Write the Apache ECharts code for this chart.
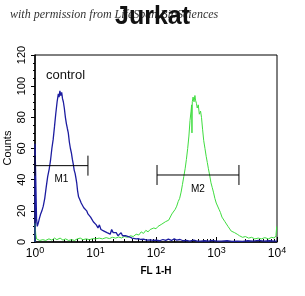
<!DOCTYPE html>
<html>
<head>
<meta charset="utf-8">
<script src="https://cdn.jsdelivr.net/npm/echarts@6/dist/echarts.min.js"></script>
<style>
  html, body { margin: 0; padding: 0; background: #fff; }
  #chart { width: 305px; height: 296px; }
</style>
</head>
<body>
<div id="chart"></div>
<script>
// FL1-H intensity / counts
const controlPts = [
  [1.0, 0], [1.0, 63], [1.03, 40], [1.06, 15], [1.09, 10], [1.13, 12], [1.18, 15], [1.24, 18],
  [1.3, 20], [1.37, 23], [1.45, 28], [1.53, 35], [1.62, 42], [1.72, 47], [1.8, 52], [1.9, 60],
  [2.0, 66], [2.1, 74], [2.2, 82], [2.32, 90], [2.43, 95], [2.5, 93], [2.58, 97], [2.66, 94],
  [2.76, 96], [2.85, 92], [2.94, 90], [3.05, 86], [3.18, 80], [3.3, 76], [3.42, 73], [3.55, 70],
  [3.7, 64], [3.85, 60], [4.0, 57], [4.15, 53], [4.29, 50], [4.45, 46], [4.6, 44], [4.75, 41],
  [4.89, 38], [5.05, 33], [5.25, 29], [5.54, 27], [5.8, 25], [6.1, 24], [6.4, 22], [6.8, 21],
  [7.15, 20], [7.5, 18], [7.9, 19], [8.3, 16], [8.7, 15], [9.2, 13], [9.7, 14], [10.3, 11],
  [11, 9], [11.6, 11], [12.3, 8], [13, 9], [13.8, 7], [14.6, 8], [15.5, 6], [16.5, 7],
  [17.5, 5], [18.5, 8], [19.6, 6], [20.8, 5], [22, 6], [23.5, 4], [25, 5], [26.5, 6],
  [28, 4], [30, 3.5], [32, 4], [34, 3], [37, 3.2], [40, 2.5], [43, 2.8], [47, 2],
  [51, 2.2], [56, 1.6], [62, 1.8], [70, 1.2], [80, 1.4], [90, 1.0], [100, 1.2], [115, 0.8],
  [130, 1.6], [145, 1.0], [160, 1.8], [180, 1.0], [200, 2.0], [220, 1.2], [250, 1.6], [280, 0.8],
  [320, 1.0], [360, 0.6], [420, 1.2], [480, 0.6], [550, 0.5], [640, 0.8], [740, 0.5], [850, 1.0],
  [1000, 0.6], [1200, 0.5], [1500, 0.8], [1800, 0.4], [2200, 0.6], [2700, 0.4], [3300, 0.8],
  [4000, 0.5], [5000, 1.0], [6000, 0.6], [7500, 0.8], [9000, 0.5], [10000, 0.5]
];

const stainedPts = [
  [1.0, 0], [1.0, 12], [1.03, 5], [1.06, 2], [1.1, 1.5], [1.2, 1], [1.35, 1.5], [1.5, 1],
  [1.7, 2], [1.9, 1.2], [2.1, 2.5], [2.3, 1.5], [2.6, 2.5], [2.9, 1.2], [3.2, 2], [3.6, 1],
  [4, 1.5], [4.5, 1], [5, 2], [5.6, 2.5], [6.2, 1.5], [7, 2], [8, 1.5], [9, 2.2],
  [10, 2], [11.5, 2.5], [13, 2], [15, 2.8], [17, 2.2], [19, 3], [21.5, 2.5], [24, 3.2],
  [27, 2.6], [30, 3.5], [34, 3], [38, 4], [42, 3.5], [47, 5], [52, 4.5], [57, 6.5],
  [62, 5.5], [68, 7.5], [74, 6.5], [80, 8], [86, 7.5], [92, 9], [100, 8.5], [108, 10],
  [116, 9.5], [125, 11.5], [134, 10.5], [143, 13], [152, 12], [162, 14], [172, 15], [183, 18],
  [195, 17], [208, 21], [220, 23], [233, 26], [246, 28], [260, 32], [274, 37], [288, 42],
  [303, 47], [318, 53], [334, 60], [350, 68], [365, 78], [380, 84], [388, 88], [393, 70],
  [398, 90], [410, 93], [425, 90], [440, 94], [450, 91], [466, 89], [480, 86], [500, 88],
  [520, 82], [545, 84], [565, 80], [590, 72], [615, 65], [645, 60], [675, 55], [705, 51],
  [735, 47], [770, 43], [810, 38], [850, 35], [890, 32], [940, 28], [990, 25], [1040, 24],
  [1100, 21], [1160, 19], [1230, 16], [1300, 17], [1380, 13], [1460, 12.5], [1550, 10], [1650, 9],
  [1750, 7], [1860, 8], [1990, 6], [2100, 6.5], [2200, 5], [2400, 4], [2700, 3], [3000, 3.5],
  [3400, 2.5], [3800, 3], [4300, 2], [4900, 2.5], [5500, 2], [6300, 2.8], [7200, 2], [8200, 3],
  [9000, 2.5], [9600, 4], [9900, 10]
];

// gates: [from, to, level, label level]
const gateNames = ["M1", "M2"];
const gates = [
  [1, 7.5, 49, 40],
  [104, 2350, 43, 34]
];

const yTicks = [0, 20, 40, 60, 80, 100, 120];
const decadeTicks = [1, 10, 100, 1000, 10000];
const minorTicks = [];
[1, 10, 100, 1000].forEach((d) => {
  for (let k = 2; k <= 9; k++) minorTicks.push(d * k);
});

const font = "'Liberation Sans', Arial, sans-serif";
const chart = echarts.init(document.getElementById("chart"), null, { renderer: "canvas" });

const xBase = {
  type: "log",
  logBase: 10,
  min: 1,
  max: 10000,
  gridIndex: 0,
  splitLine: { show: false },
};

chart.setOption({
  animation: false,
  backgroundColor: "#fff",
  title: {
    text: "Jurkat",
    left: "center",
    top: 0,
    z: 10,
    textStyle: { fontFamily: font, fontSize: 25, fontWeight: "bold", color: "#111" },
  },
  graphic: [
    {
      type: "text",
      left: 10,
      top: 9,
      z: 1,
      style: {
        text: "with permission from LifeSpan BioSciences",
        font: "italic 12px 'Liberation Serif', serif",
        fill: "#333",
      },
    },
    {
      type: "text",
      left: 46,
      top: 69,
      style: { text: "control", font: "13px " + font, fill: "#111" },
    },
    {
      // y axis title
      type: "text",
      x: 8,
      y: 148,
      rotation: Math.PI / 2,
      style: {
        text: "Counts",
        font: "11px " + font,
        fill: "#000",
        align: "center",
        verticalAlign: "middle",
      },
    },
  ],
  grid: {
    left: 35, right: 28, top: 55, bottom: 54,
    outerBoundsMode: "none",
    containLabel: false,
    show: true, borderColor: "#000", borderWidth: 1,
  },
  xAxis: [
    Object.assign({}, xBase, {
      name: "FL 1-H",
      nameLocation: "middle",
      nameGap: 24,
      nameTextStyle: { fontFamily: font, fontSize: 10, fontWeight: "bold", color: "#000" },
      axisLine: { lineStyle: { color: "#000", width: 1.5 } },
      axisTick: { inside: true, length: 5, customValues: decadeTicks, lineStyle: { color: "#000" } },
      axisLabel: {
        margin: 4,
        customValues: decadeTicks,
        formatter: (v) => "{b|10}{s|" + Math.round(Math.log10(v)) + "}",
        rich: {
          b: { fontFamily: font, fontSize: 12, color: "#000" },
          s: { fontFamily: font, fontSize: 9, color: "#000", padding: [0, 0, 7, 0] },
        },
      },
    }),
    Object.assign({}, xBase, {
      position: "bottom",
      axisLine: { show: false },
      axisTick: { inside: true, length: 3, customValues: minorTicks, lineStyle: { color: "#000" } },
      axisLabel: { show: false },
    }),
  ],
  yAxis: {
    type: "value",
    min: 0,
    max: 120,
    interval: 20,
    splitLine: { show: false },
    axisLine: { show: true, lineStyle: { color: "#000", width: 1.5 } },
    axisTick: { show: true, length: 4, lineStyle: { color: "#000" } },
    minorTick: { show: true, splitNumber: 4, length: 2, lineStyle: { color: "#000" } },
    axisLabel: {
      rotate: 90,
      margin: 8,
      fontFamily: font,
      fontSize: 11,
      color: "#000",
      customValues: yTicks,
    },
  },
  series: [
    {
      type: "line",
      data: stainedPts,
      showSymbol: false,
      lineStyle: { color: "#3fdc3f", width: 1 },
      z: 2,
    },
    {
      type: "line",
      data: controlPts,
      showSymbol: false,
      lineStyle: { color: "#1c1ca0", width: 1.3 },
      z: 3,
    },
    {
      type: "custom",
      clip: false,
      z: 5,
      encode: { x: [0, 1], y: [2, 3] },
      data: gates.map((g, i) => g.concat([i])),
      renderItem: (params, api) => {
        const lo = api.value(0), hi = api.value(1), lvl = api.value(2), lab = api.value(3);
        const a = api.coord([lo, lvl]);
        const b = api.coord([hi, lvl]);
        const c = api.coord([Math.sqrt(lo * hi), lab]);
        const stroke = { stroke: "#000", lineWidth: 1 };
        return {
          type: "group",
          children: [
            { type: "line", shape: { x1: a[0], y1: a[1], x2: b[0], y2: b[1] }, style: stroke },
            { type: "line", shape: { x1: a[0], y1: a[1] - 10, x2: a[0], y2: a[1] + 10 }, style: stroke },
            { type: "line", shape: { x1: b[0], y1: b[1] - 10, x2: b[0], y2: b[1] + 10 }, style: stroke },
            {
              type: "text",
              x: c[0], y: c[1],
              style: {
                text: gateNames[api.value(4)],
                font: "10px " + font,
                fill: "#000",
                align: "center",
                verticalAlign: "middle",
              },
            },
          ],
        };
      },
    },
  ],
});
</script>
</body>
</html>
